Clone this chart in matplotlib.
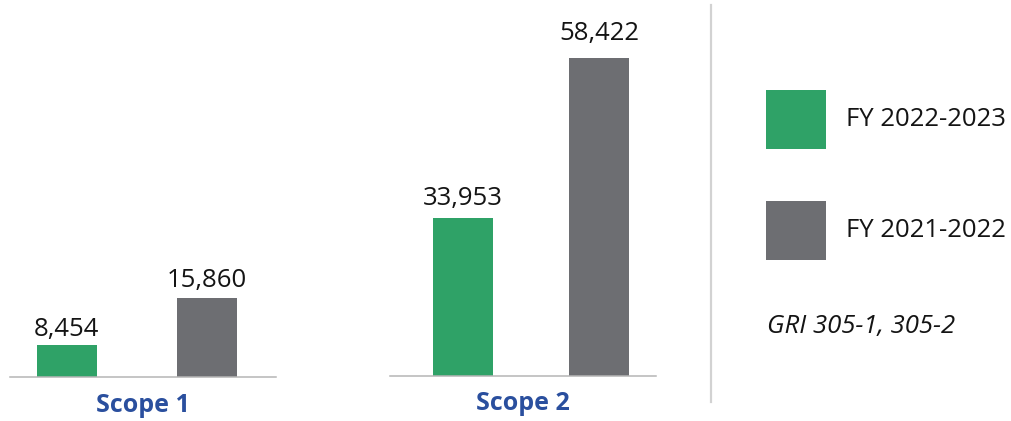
import matplotlib
matplotlib.use("Agg")
import matplotlib.pyplot as plt
from matplotlib.patches import Rectangle
from matplotlib.lines import Line2D

# ---- data ----
groups = ["Scope 1", "Scope 2"]
series_names = ["FY 2022-2023", "FY 2021-2022"]
scope1_values = [8454, 15860]
scope2_values = [33953, 58422]
value_labels_1 = ["8,454", "15,860"]
value_labels_2 = ["33,953", "58,422"]
note_text = "GRI 305-1, 305-2"

# ---- style ----
GREEN = "#2fa267"
GRAY = "#6d6e72"
BLUE = "#2a4f9e"
FONT = ["Open Sans", "DejaVu Sans"]
plt.rcParams["font.family"] = FONT

W, H = 1012, 421
fig = plt.figure(figsize=(W / 100, H / 100), dpi=100)


def px_rect(x0, x1, ytop, ybot):
    return [x0 / W, (H - ybot) / H, (x1 - x0) / W, (ybot - ytop) / H]


def make_axes(x0, x1, base_y, values, labels, centers_px, bar_px, ylims, label_offsets, title):
    ax = fig.add_axes(px_rect(x0, x1, 5, base_y))
    spacing = centers_px[1] - centers_px[0]
    ax.set_xlim(-(centers_px[0] - x0) / spacing, 1 + (x1 - centers_px[1]) / spacing)
    ax.set_ylim(*ylims)
    ax.bar([0, 1], values, width=bar_px / spacing, color=[GREEN, GRAY], zorder=2)
    for i, (v, lab) in enumerate(zip(values, labels)):
        ax.annotate(lab, (i, v), xytext=(0, label_offsets[i]), textcoords="offset pixels",
                    ha="center", va="baseline", fontsize=18.5, color="#141414")
    for s in ["top", "left", "right"]:
        ax.spines[s].set_visible(False)
    ax.spines["bottom"].set_color("#b5b5b5")
    ax.spines["bottom"].set_linewidth(1.1)
    ax.spines["bottom"].set_zorder(3)
    ax.set_xticks([])
    ax.set_yticks([])
    ax.patch.set_alpha(0)
    ax.text(0.5, -28 / (base_y - 5), title, transform=ax.transAxes, ha="center", va="center",
            fontsize=18, fontweight="bold", color=BLUE)
    return ax


# Scope 1 axes: 372 px tall, bars scaled to match reference
a1 = 47 / 7406.0
v01 = 3411
make_axes(10, 276, 377, scope1_values, value_labels_1, (66.7, 206.7), 60,
          (v01, v01 + 372 / a1), [9, 11], groups[0])

a2 = 160 / 24469.0
v02 = 9790
make_axes(390, 656, 376, scope2_values, value_labels_2, (463, 599), 60,
          (v02, v02 + 371 / a2), [13, 18], groups[1])

# separator line
fig.add_artist(Line2D([711 / W, 711 / W], [(H - 5) / H, (H - 402) / H],
                      color="#d2d2d2", lw=1.6, transform=fig.transFigure))

# legend
for (ytop, ybot, ymid), col, name in zip([(90, 148.7, 119.5), (201, 259.7, 230.5)],
                                         [GREEN, GRAY], series_names):
    r = px_rect(766, 826, ytop, ybot)
    fig.add_artist(Rectangle((r[0], r[1]), r[2], r[3], transform=fig.transFigure,
                             color=col, lw=0))
    fig.text(846.5 / W, (H - ymid) / H, name, ha="left", va="center",
             fontsize=18.5, color="#141414")

fig.text(767 / W, (H - 326.7) / H, note_text, ha="left", va="center",
         fontsize=18.5, style="italic", color="#141414")

fig.savefig("out.png", dpi=100, facecolor="white")
